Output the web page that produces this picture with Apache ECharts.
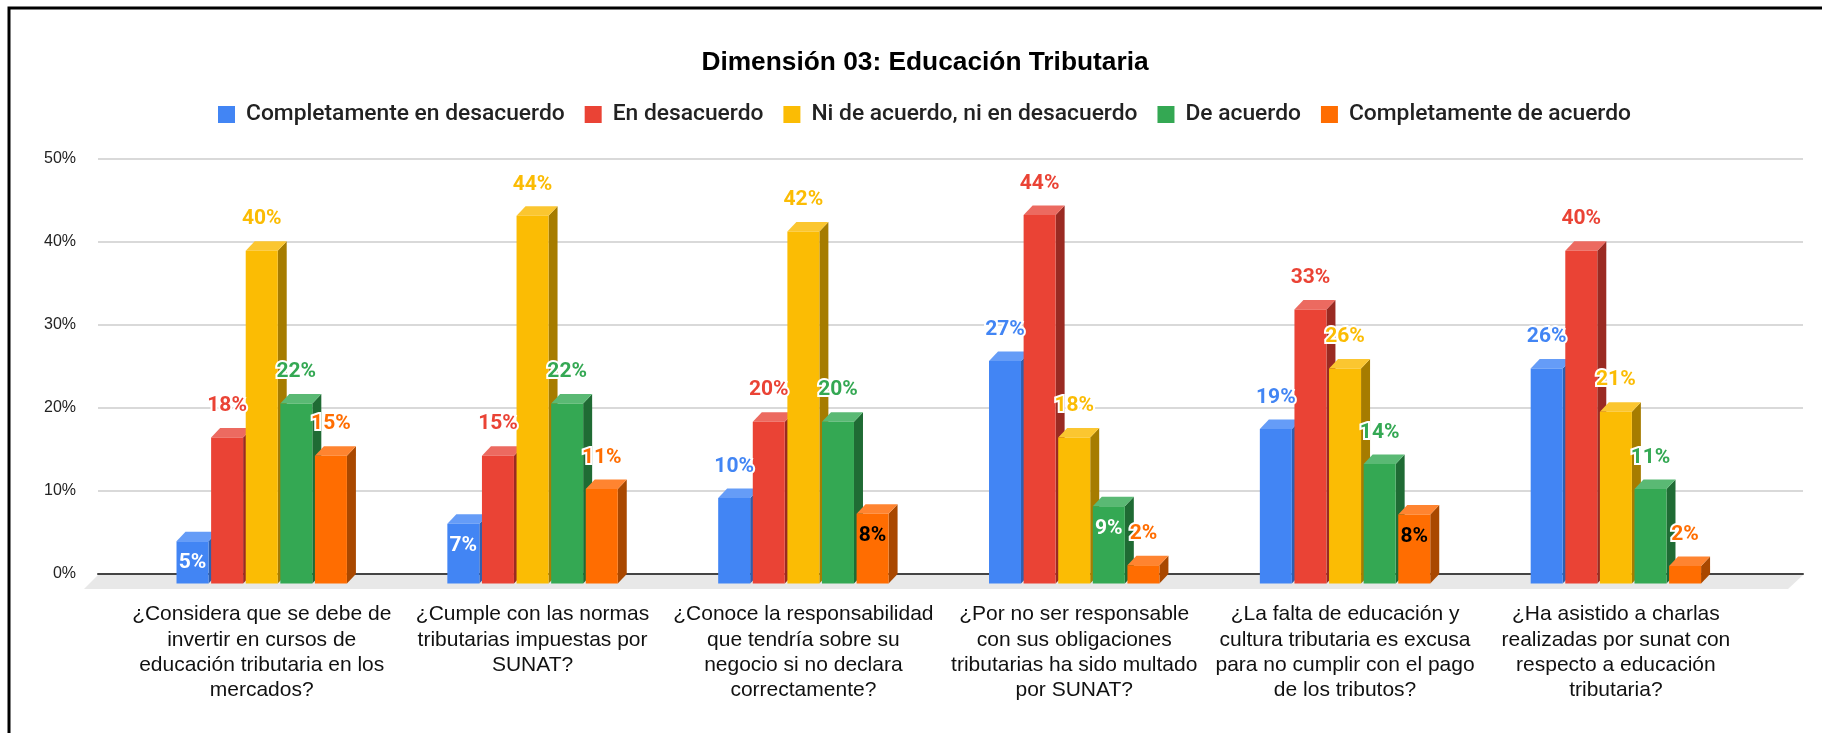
<!DOCTYPE html>
<html>
<head>
<meta charset="utf-8">
<style>
  html, body { margin: 0; height: 100%; background: #fff; }
  #main { width: 1822px; height: 733px; }
</style>
<script src="https://cdn.jsdelivr.net/npm/echarts@6/dist/echarts.min.js"></script>
</head>
<body>
<div id="main"></div>
<script>
const categories = [
  '¿Considera que se debe de\ninvertir en cursos de\neducación tributaria en los\nmercados?',
  '¿Cumple con las normas\ntributarias impuestas por\nSUNAT?',
  '¿Conoce la responsabilidad\nque tendría sobre su\nnegocio si no declara\ncorrectamente?',
  '¿Por no ser responsable\ncon sus obligaciones\ntributarias ha sido multado\npor SUNAT?',
  '¿La falta de educación y\ncultura tributaria es excusa\npara no cumplir con el pago\nde los tributos?',
  '¿Ha asistido a charlas\nrealizadas por sunat con\nrespecto a educación\ntributaria?'
]
const seriesNames = [
  'Completamente en desacuerdo',
  'En desacuerdo',
  'Ni de acuerdo, ni en desacuerdo',
  'De acuerdo',
  'Completamente de acuerdo'
]
const blueValues = [5.1, 7.2, 10.3, 26.8, 18.6, 25.9]
const redValues = [17.6, 15.4, 19.5, 44.4, 33, 40.1]
const yellowValues = [40.1, 44.3, 42.4, 17.6, 25.9, 20.7]
const greenValues = [21.7, 21.7, 19.5, 9.3, 14.4, 11.4]
const orangeValues = [15.4, 11.4, 8.4, 2.2, 8.3, 2.1]
const yTicks = [0, 10, 20, 30, 40, 50]

// labels that sit inside the bar: [series, category]
const whiteInside = [[0, 0], [0, 1], [3, 3]]
const blackInside = [[4, 2], [4, 4]]

const allValues = [blueValues, redValues, yellowValues, greenValues, orangeValues]
const colors = ['#4285f4', '#ea4335', '#fbbc04', '#34a853', '#ff6d01']
const topColors = ['#659cf7', '#ec6a60', '#fbc630', '#5ab974', '#ff8430']
const sideColors = ['#2f5fae', '#9a2a22', '#a67c00', '#1f6b34', '#a94800']

const pitch = 34.6
const barWidth = 32
const depthX = 9
const depthY = 9.5

const hasPair = (list, s, c) => list.some(p => p[0] === s && p[1] === c)

const renderBar = (s) => (params, api) => {
  const p = api.coord([api.value(0), api.value(1)])
  const base = api.coord([api.value(0), 0])
  const x0 = p[0] + (s - 2) * pitch - barWidth / 2
  const x1 = x0 + barWidth
  const yt = p[1] + depthY
  const yb = base[1] + depthY
  return {
    type: 'group',
    children: [
      {
        type: 'polygon',
        shape: { points: [[x1, yt], [x1 + depthX, yt - depthY], [x1 + depthX, yb - depthY], [x1, yb]] },
        style: { fill: sideColors[s] }
      },
      {
        type: 'polygon',
        shape: { points: [[x0, yt], [x0 + depthX, yt - depthY], [x1 + depthX, yt - depthY], [x1, yt]] },
        style: { fill: topColors[s] }
      },
      {
        type: 'rect',
        shape: { x: x0, y: yt, width: barWidth, height: yb - yt },
        style: { fill: colors[s] }
      }
    ]
  }
}

const renderLabel = (params, api) => {
  const c = api.value(0)
  const v = api.value(1)
  const s = api.value(2)
  const p = api.coord([c, v])
  const white = hasPair(whiteInside, s, c)
  const black = hasPair(blackInside, s, c)
  const inside = white || black
  return {
    type: 'text',
    style: {
      text: Math.round(v) + '%',
      x: p[0] + (s - 2) * pitch,
      y: p[1] + depthY + (inside ? 22 : -31.5),
      align: 'center',
      verticalAlign: 'middle',
      font: 'bold 21px Roboto',
      fill: white ? '#ffffff' : black ? '#000000' : colors[s],
      stroke: inside ? null : '#ffffff',
      lineWidth: inside ? 0 : 4
    }
  }
}

const renderFloor = (params) => {
  const g = params.coordSys
  const bottom = g.y + g.height
  return {
    type: 'polygon',
    shape: { points: [[g.x, bottom + 1], [g.x + g.width, bottom + 1], [g.x + g.width - 15, bottom + 15], [g.x - 14, bottom + 15]] },
    style: { fill: '#e8e8e8' }
  }
}

const labelRows = []
allValues.forEach((values, s) => {
  values.forEach((v, c) => labelRows.push([c, v, s]))
})

const myChart = echarts.init(document.getElementById('main'))

const option = {
  animation: false,
  backgroundColor: '#fff',
  title: {
    text: 'Dimensión 03: Educación Tributaria',
    left: 920,
    textAlign: 'center',
    top: 45,
    textStyle: { fontFamily: 'Liberation Sans', fontWeight: 'bold', fontSize: 26.3, color: '#000' }
  },
  legend: {
    data: seriesNames,
    left: 213,
    top: 98,
    itemWidth: 17,
    itemHeight: 17,
    itemGap: 20,
    icon: 'rect',
    textStyle: { fontFamily: 'Roboto', fontWeight: 500, fontSize: 22.8, color: '#222', padding: [0, 0, 0, 6] }
  },
  grid: [
    { left: 98, top: 159, width: 1705, height: 415 },
    { left: 126.3, top: 159, width: 1625, height: 415 }
  ],
  xAxis: [
    {
      gridIndex: 0,
      type: 'value',
      min: 0,
      max: 1,
      axisLine: { show: true, lineStyle: { color: '#444', width: 2 } },
      axisTick: { show: false },
      axisLabel: { show: false },
      splitLine: { show: false }
    },
    {
      gridIndex: 1,
      type: 'category',
      data: categories,
      axisLine: { show: false },
      axisTick: { show: false },
      axisLabel: {
        interval: 0,
        margin: 28,
        fontFamily: 'Liberation Sans',
        fontSize: 21,
        lineHeight: 25.3,
        color: '#111',
        align: 'center'
      }
    }
  ],
  yAxis: [
    {
      gridIndex: 0,
      type: 'value',
      min: yTicks[0],
      max: yTicks[yTicks.length - 1],
      interval: 10,
      axisLine: { show: false },
      axisTick: { show: false },
      axisLabel: { margin: 22, padding: [5, 0, 0, 0], formatter: '{value}%', fontFamily: 'Liberation Sans', fontSize: 16, color: '#222' },
      splitLine: { lineStyle: { color: '#d9d9d9', width: 2 } }
    },
    {
      gridIndex: 1,
      type: 'value',
      min: yTicks[0],
      max: yTicks[yTicks.length - 1],
      interval: 10,
      show: false
    }
  ],
  series: [
    {
      name: 'Piso',
      type: 'custom',
      xAxisIndex: 0,
      yAxisIndex: 0,
      z: 1,
      silent: true,
      renderItem: renderFloor,
      data: [[0, 0]]
    },
    ...seriesNames.map((name, s) => ({
      name: name,
      type: 'custom',
      xAxisIndex: 1,
      yAxisIndex: 1,
      z: 2,
      itemStyle: { color: colors[s] },
      renderItem: renderBar(s),
      encode: { x: 0, y: 1 },
      data: allValues[s].map((v, c) => [c, v])
    })),
    {
      name: 'Etiquetas',
      type: 'custom',
      xAxisIndex: 1,
      yAxisIndex: 1,
      z: 5,
      silent: true,
      renderItem: renderLabel,
      encode: { x: 0, y: 1 },
      data: labelRows
    }
  ],
  graphic: [
    {
      type: 'polyline',
      shape: { points: [[9, 733], [9, 8], [1822, 8]] },
      style: { stroke: '#000', lineWidth: 3, fill: null }
    }
  ]
}

myChart.setOption(option)
window.addEventListener('resize', () => {
  myChart.resize()
})
</script>
</body>
</html>
